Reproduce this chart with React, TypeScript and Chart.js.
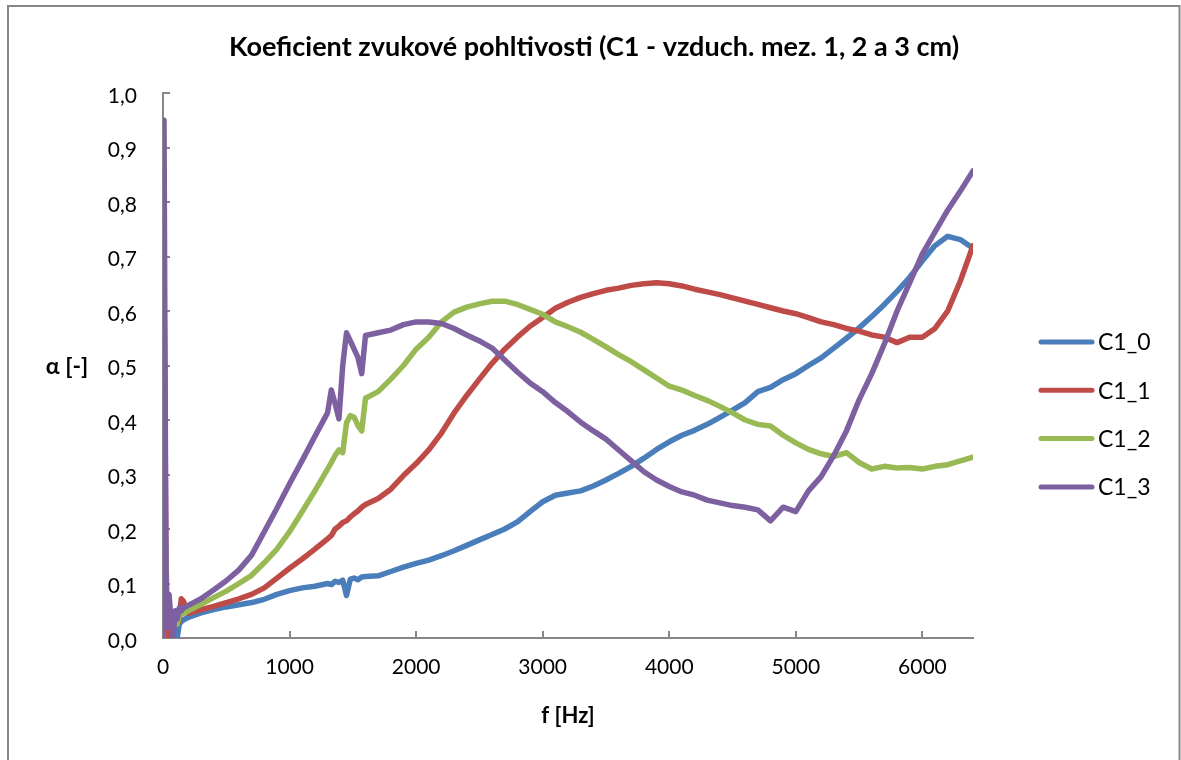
import React, { useEffect, useRef } from 'react';
import { Chart, registerables } from 'chart.js';

Chart.register(...registerables);

const freqs = [0, 8, 16, 24, 32, 48, 64, 80, 96, 112, 128, 144, 160,
  200, 300, 400, 500, 600, 700, 800, 900, 1000, 1100, 1200, 1300,
  1330, 1360, 1390, 1420, 1450, 1480, 1510, 1540, 1570,
  1600, 1700, 1800, 1900, 2000,
  2100, 2200, 2300, 2400, 2500, 2600, 2700, 2800, 2900, 3000,
  3100, 3200, 3300, 3400, 3500, 3600, 3700, 3800, 3900, 4000,
  4100, 4200, 4300, 4400, 4500, 4600, 4700, 4800, 4900, 5000,
  5100, 5200, 5300, 5400, 5500, 5600, 5700, 5800, 5900, 6000,
  6100, 6200, 6300, 6400];

const c1_0 = [0, 0.74, 0.25, 0.06, 0.0, 0.03, 0.015, 0.04, 0.005, 0.0, 0.025, 0.03, 0.033,
  0.038, 0.046, 0.052, 0.057, 0.061, 0.065, 0.071, 0.08, 0.087, 0.092, 0.095, 0.1,
  0.098, 0.104, 0.102, 0.106, 0.078, 0.108, 0.11, 0.107, 0.112,
  0.113, 0.114, 0.122, 0.13, 0.137,
  0.143, 0.151, 0.16, 0.17, 0.18, 0.19, 0.2, 0.213, 0.232, 0.25,
  0.262, 0.266, 0.27, 0.279, 0.29, 0.302, 0.315, 0.33, 0.346, 0.36,
  0.372, 0.381, 0.392, 0.405, 0.418, 0.432, 0.452, 0.46, 0.474, 0.485,
  0.5, 0.514, 0.532, 0.55, 0.569, 0.59, 0.612, 0.636, 0.662, 0.692,
  0.72, 0.737, 0.731, 0.715];

const c1_1 = [0, 0.64, 0.4, 0.08, 0.0, 0.015, 0.0, 0.02, 0.03, 0.035, 0.03, 0.072, 0.068,
  0.045, 0.052, 0.058, 0.065, 0.072, 0.08, 0.092, 0.11, 0.128, 0.145, 0.163, 0.182,
  0.188, 0.2, 0.205, 0.212, 0.215, 0.222, 0.228, 0.233, 0.24,
  0.245, 0.256, 0.273, 0.298, 0.32,
  0.345, 0.376, 0.413, 0.445, 0.475, 0.504, 0.53, 0.552, 0.572, 0.588,
  0.605, 0.616, 0.625, 0.632, 0.638, 0.642, 0.647, 0.65, 0.652, 0.65,
  0.646, 0.64, 0.635, 0.63, 0.624, 0.618, 0.612, 0.606, 0.6, 0.595,
  0.588, 0.58, 0.575, 0.568, 0.563, 0.556, 0.552, 0.542, 0.552, 0.552,
  0.568, 0.6, 0.655, 0.72];

const c1_2 = [0, 0.62, 0.2, 0.16, 0.05, 0.035, 0.02, 0.035, 0.04, 0.025, 0.04, 0.045, 0.045,
  0.05, 0.062, 0.074, 0.086, 0.1, 0.115, 0.138, 0.163, 0.195, 0.232, 0.27, 0.31,
  0.322, 0.335, 0.345, 0.34, 0.395, 0.408, 0.405, 0.39, 0.38,
  0.44, 0.452, 0.475, 0.5, 0.53,
  0.552, 0.58, 0.598, 0.607, 0.613, 0.618, 0.618, 0.612, 0.603, 0.594,
  0.58, 0.571, 0.561, 0.548, 0.534, 0.52, 0.507, 0.492, 0.477, 0.462,
  0.455, 0.445, 0.436, 0.425, 0.413, 0.4, 0.392, 0.389, 0.372, 0.358,
  0.346, 0.338, 0.333, 0.34, 0.322, 0.31, 0.315, 0.312, 0.313, 0.31,
  0.315, 0.318, 0.325, 0.332];

const c1_3 = [0, 0.95, 0.5, 0.12, 0.02, 0.08, 0.03, 0.0, 0.05, 0.035, 0.055, 0.05, 0.055,
  0.06, 0.072, 0.088, 0.105, 0.125, 0.152, 0.195, 0.238, 0.283, 0.326, 0.37, 0.413,
  0.455, 0.43, 0.402, 0.5, 0.56, 0.545, 0.53, 0.515, 0.485,
  0.555, 0.56, 0.565, 0.575, 0.58,
  0.58, 0.577, 0.568, 0.556, 0.545, 0.532, 0.51, 0.488, 0.468, 0.452,
  0.432, 0.415, 0.396, 0.38, 0.365, 0.345, 0.325, 0.305, 0.29, 0.278,
  0.268, 0.262, 0.253, 0.248, 0.243, 0.24, 0.235, 0.215, 0.24, 0.232,
  0.27, 0.296, 0.335, 0.38, 0.437, 0.485, 0.54, 0.6, 0.652, 0.705,
  0.745, 0.785, 0.82, 0.857];

const seriesNames = ['C1_0', 'C1_1', 'C1_2', 'C1_3'];
const seriesValues = [c1_0, c1_1, c1_2, c1_3];
const seriesColors = ['#4A7EBB', '#BE4B48', '#98B954', '#7D60A0'];

const xTickValues = [0, 1000, 2000, 3000, 4000, 5000, 6000];
const yTickValues = [0, 0.1, 0.2, 0.3, 0.4, 0.5, 0.6, 0.7, 0.8, 0.9, 1.0];

const chartTitle = 'Koeficient zvukové pohltivosti (C1 - vzduch. mez. 1, 2 a 3 cm)';
const xAxisTitle = 'f [Hz]';
const yAxisTitle = 'α [-]';

const FONT = 'Lato, "Open Sans", sans-serif';
const AXIS_COLOR = '#878787';

const decorPlugin = {
  id: 'decor',
  beforeDraw(chart: any) {
    const ctx = chart.ctx;
    ctx.save();
    ctx.fillStyle = '#ffffff';
    ctx.fillRect(0, 0, chart.width, chart.height);
    ctx.restore();
  },
  beforeDatasetsDraw(chart: any) {
    const ctx = chart.ctx;
    const { left, bottom } = chart.chartArea;
    const xs = chart.scales.x;
    const ys = chart.scales.y;
    ctx.save();
    ctx.strokeStyle = AXIS_COLOR;
    ctx.lineWidth = 2;
    ctx.beginPath();
    yTickValues.forEach((v) => {
      const py = Math.round(ys.getPixelForValue(v));
      ctx.moveTo(left, py);
      ctx.lineTo(left + 7, py);
    });
    xTickValues.forEach((v) => {
      const px = Math.round(xs.getPixelForValue(v));
      ctx.moveTo(px, bottom);
      ctx.lineTo(px, bottom - 7);
    });
    ctx.stroke();
    ctx.restore();
  },
  afterDraw(chart: any) {
    const ctx = chart.ctx;
    const area = chart.chartArea;
    ctx.save();
    // outer frame
    ctx.strokeStyle = AXIS_COLOR;
    ctx.lineWidth = 2;
    ctx.strokeRect(8, 6, 1171.5, 800);

    ctx.fillStyle = '#000000';
    ctx.textAlign = 'center';
    ctx.textBaseline = 'middle';
    ctx.font = `bold 27px ${FONT}`;
    ctx.fillText(chartTitle, 594, 47);

    ctx.font = `bold 22px ${FONT}`;
    ctx.fillText(xAxisTitle, (area.left + area.right) / 2, 716);
    ctx.font = `bold 23px ${FONT}`;
    ctx.fillText(yAxisTitle, 67, 367);

    // legend
    ctx.font = `23px ${FONT}`;
    ctx.textAlign = 'left';
    ctx.lineCap = 'round';
    seriesNames.forEach((name, i) => {
      const y = 342 + i * 48.3;
      ctx.strokeStyle = seriesColors[i];
      ctx.lineWidth = 5;
      ctx.beginPath();
      ctx.moveTo(1041, y);
      ctx.lineTo(1092, y);
      ctx.stroke();
      ctx.fillStyle = '#000000';
      ctx.fillText(name, 1098, y + 1);
    });
    ctx.restore();
  },
};

export default function App() {
  const canvasRef = useRef<HTMLCanvasElement | null>(null);

  useEffect(() => {
    if (!canvasRef.current) return;
    const datasets = seriesNames.map((name, i) => ({
      label: name,
      data: freqs.map((f, j) => ({ x: f, y: seriesValues[i][j] })),
      borderColor: seriesColors[i],
      backgroundColor: seriesColors[i],
      borderWidth: 5.5,
      pointRadius: 0,
      pointHoverRadius: 0,
      tension: 0,
      fill: false,
      borderJoinStyle: 'round' as const,
      borderCapStyle: 'round' as const,
      order: seriesNames.length - i,
    }));

    const chart = new Chart(canvasRef.current, {
      type: 'line',
      data: { datasets },
      plugins: [decorPlugin],
      options: {
        animation: false,
        responsive: false,
        devicePixelRatio: 1,
        layout: { padding: { left: 0, top: 93, right: 208, bottom: 0 } },
        plugins: {
          legend: { display: false },
          title: { display: false },
          tooltip: { enabled: false },
        },
        scales: {
          x: {
            type: 'linear',
            min: 0,
            max: 6400,
            afterBuildTicks: (scale: any) => {
              scale.ticks = xTickValues.map((v) => ({ value: v }));
            },
            afterFit: (scale: any) => {
              scale.height = 122;
            },
            grid: { display: false, drawTicks: false },
            border: { display: true, color: AXIS_COLOR, width: 2 },
            ticks: {
              padding: 17,
              color: '#000000',
              font: { family: FONT, size: 21 },
              maxRotation: 0,
              autoSkip: false,
              callback: (v: any) => String(v),
            },
          },
          y: {
            type: 'linear',
            min: 0,
            max: 1,
            afterBuildTicks: (scale: any) => {
              scale.ticks = yTickValues.map((v) => ({ value: v }));
            },
            afterFit: (scale: any) => {
              scale.width = 163;
            },
            grid: { display: false, drawTicks: false },
            border: { display: true, color: AXIS_COLOR, width: 2 },
            ticks: {
              padding: 26,
              labelOffset: 3,
              color: '#000000',
              font: { family: FONT, size: 21 },
              autoSkip: false,
              callback: (v: any) => Number(v).toFixed(1).replace('.', ','),
            },
          },
        },
      },
    } as any);

    return () => chart.destroy();
  }, []);

  return (
    <div style={{ position: 'fixed', left: 0, top: 0, width: 1181, height: 760, background: '#fff' }}>
      <canvas ref={canvasRef} width={1181} height={760} style={{ display: 'block' }} />
    </div>
  );
}
